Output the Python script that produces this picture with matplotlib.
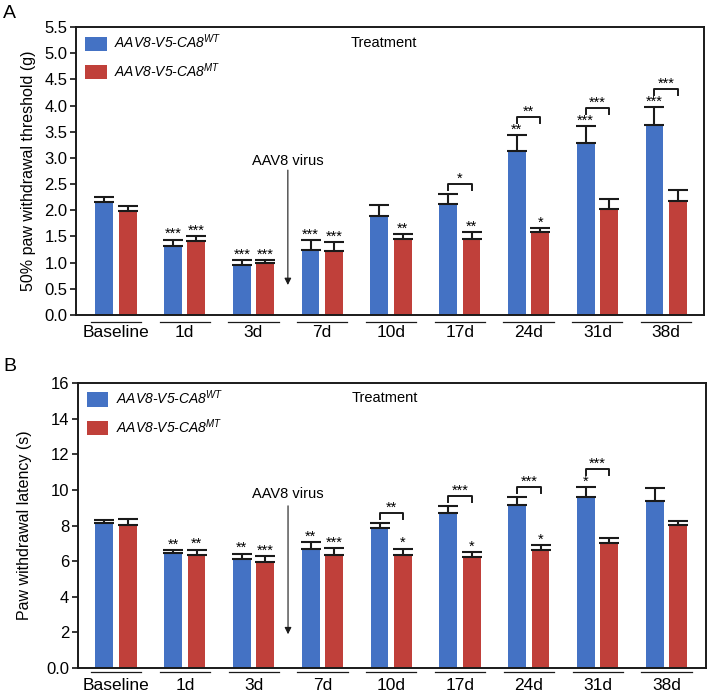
import numpy as np
import matplotlib
matplotlib.use('Agg')
import matplotlib.pyplot as plt

plt.rcParams['font.family'] = ['Liberation Sans', 'DejaVu Sans']
plt.rcParams['mathtext.fontset'] = 'custom'
plt.rcParams['mathtext.rm'] = 'Liberation Sans'
plt.rcParams['mathtext.it'] = 'Liberation Sans:italic'

# ---- data ----
days = ['Baseline', '1d', '3d', '7d', '10d', '17d', '24d', '31d', '38d']

# A: 50% paw withdrawal threshold (g)
pwt_wt = [2.15, 1.32, 0.96, 1.24, 1.90, 2.12, 3.13, 3.28, 3.62]
pwt_wt_sem = [0.11, 0.12, 0.09, 0.19, 0.21, 0.19, 0.31, 0.32, 0.35]
pwt_mt = [1.99, 1.41, 0.99, 1.22, 1.46, 1.45, 1.58, 2.03, 2.18]
pwt_mt_sem = [0.10, 0.09, 0.06, 0.18, 0.09, 0.14, 0.08, 0.19, 0.20]
pwt_wt_sig = ['', '***', '***', '***', '', '', '**', '***', '***']
pwt_mt_sig = ['', '***', '***', '***', '**', '**', '*', '', '']
pwt_pair_sig = ['', '', '', '', '', '*', '**', '***', '***']

# B: paw withdrawal latency (s)
pwl_wt = [8.12, 6.45, 6.12, 6.70, 7.86, 8.68, 9.17, 9.62, 9.37]
pwl_wt_sem = [0.17, 0.19, 0.30, 0.39, 0.28, 0.41, 0.41, 0.54, 0.72]
pwl_mt = [8.05, 6.37, 5.97, 6.37, 6.36, 6.23, 6.61, 7.02, 8.01]
pwl_mt_sem = [0.30, 0.28, 0.30, 0.36, 0.34, 0.30, 0.31, 0.26, 0.26]
pwl_wt_sig = ['', '**', '**', '**', '', '', '', '*', '']
pwl_mt_sig = ['', '**', '***', '***', '*', '*', '*', '', '']
pwl_pair_sig = ['', '', '', '', '**', '***', '***', '***', '']

labels = [r'AAV8-V5-CA8$^{WT}$', r'AAV8-V5-CA8$^{MT}$']
blue = '#4472c4'
red = '#c0403a'

fig = plt.figure(figsize=(7.28, 7.0), dpi=100)
axA = fig.add_axes([76/728, 1 - 315/700, 628/728, 288/700])
axB = fig.add_axes([77.5/728, 1 - 668/700, 628.5/728, 285/700])

x = np.arange(len(days))
w = 0.26
off = 0.17


def draw_panel(ax, wt, wt_sem, mt, mt_sem, wt_sig, mt_sig, pair_sig, ymax, xlim, uline_y):
    ax.bar(x - off, wt, w, color=blue, label=labels[0], zorder=2)
    ax.bar(x + off, mt, w, color=red, label=labels[1], zorder=2)
    ek = dict(fmt='none', ecolor='#1a1a1a', elinewidth=1.5, capsize=7, capthick=1.5, zorder=3)
    ax.errorbar(x - off, wt, yerr=[np.zeros(len(wt)), wt_sem], **ek)
    ax.errorbar(x + off, mt, yerr=[np.zeros(len(mt)), mt_sem], **ek)

    wt_top = np.array(wt) + np.array(wt_sem)
    mt_top = np.array(mt) + np.array(mt_sem)
    st = dict(ha='center', va='baseline', fontsize=10.5, textcoords='offset points', xytext=(0, 1))
    for i in range(len(days)):
        if wt_sig[i]:
            ax.annotate(wt_sig[i], (x[i] - off, wt_top[i]), **st)
        if mt_sig[i]:
            ax.annotate(mt_sig[i], (x[i] + off, mt_top[i]), **st)
        if pair_sig[i]:
            top = max(wt_top[i], mt_top[i])
            gap = 0.063 * ymax if wt_sig[i] else 0.036 * ymax
            h = top + gap
            leg = 0.021 * ymax
            ax.plot([x[i] - off, x[i] - off, x[i] + off, x[i] + off],
                    [h - leg, h, h, h - leg], color='#1a1a1a', lw=1.4, zorder=3)
            ax.annotate(pair_sig[i], (x[i], h), **st)

    # group underlines below the axis
    for xi in x:
        ax.plot([xi - 0.365, xi + 0.365], [uline_y, uline_y], color='#1a1a1a', lw=0.9,
                transform=ax.get_xaxis_transform(), clip_on=False)

    ax.set_xlim(*xlim)
    ax.set_ylim(0, ymax)
    ax.set_xticks(x)
    ax.set_xticklabels(days, fontsize=12.5)
    ax.tick_params(axis='x', length=0, pad=7)
    ax.tick_params(axis='y', length=4, width=1.1, labelsize=12, direction='out', pad=2)
    for s in ax.spines.values():
        s.set_linewidth(1.4)
        s.set_color('#1a1a1a')

    leg = ax.legend(loc='upper left', bbox_to_anchor=(9/628, 0.98), frameon=False,
                    borderaxespad=0, borderpad=0, handlelength=1.55, handleheight=1.2,
                    handletextpad=0.55, labelspacing=0.7,
                    prop={'style': 'italic', 'size': 10})
    return leg


draw_panel(axA, pwt_wt, pwt_wt_sem, pwt_mt, pwt_mt_sem, pwt_wt_sig, pwt_mt_sig, pwt_pair_sig,
           5.5, (-0.58, 8.55), -0.023)
axA.set_yticks(np.arange(0, 5.51, 0.5))
axA.set_yticklabels([f'{v:.1f}' for v in np.arange(0, 5.51, 0.5)])
axA.set_ylabel('50% paw withdrawal threshold (g)', fontsize=11.5, labelpad=6)
axA.text(3.9, 5.19, 'Treatment', ha='center', va='center', fontsize=10.5)
axA.text(2.5, 2.94, 'AAV8 virus', ha='center', va='center', fontsize=10.5)
axA.annotate('', xy=(2.5, 0.52), xytext=(2.5, 2.82),
             arrowprops=dict(arrowstyle='-|>', lw=0.8, color='#1a1a1a', mutation_scale=10))

draw_panel(axB, pwl_wt, pwl_wt_sem, pwl_mt, pwl_mt_sem, pwl_wt_sig, pwl_mt_sig, pwl_pair_sig,
           16, (-0.56, 8.575), -0.015)
axB.set_yticks(np.arange(0, 17, 2))
axB.set_yticklabels(['0.0'] + [str(v) for v in range(2, 17, 2)])
axB.set_ylabel('Paw withdrawal latency (s)', fontsize=11.5, labelpad=10)
axB.text(3.9, 15.16, 'Treatment', ha='center', va='center', fontsize=10.5)
axB.text(2.5, 9.77, 'AAV8 virus', ha='center', va='center', fontsize=10.5)
axB.annotate('', xy=(2.5, 1.74), xytext=(2.5, 9.26),
             arrowprops=dict(arrowstyle='-|>', lw=0.8, color='#1a1a1a', mutation_scale=10))

fig.text(3/728, 1 - 14/700, 'A', fontsize=14, va='center', ha='left')
fig.text(3/728, 1 - 367/700, 'B', fontsize=14, va='center', ha='left')

fig.savefig('out.png', dpi=100)
